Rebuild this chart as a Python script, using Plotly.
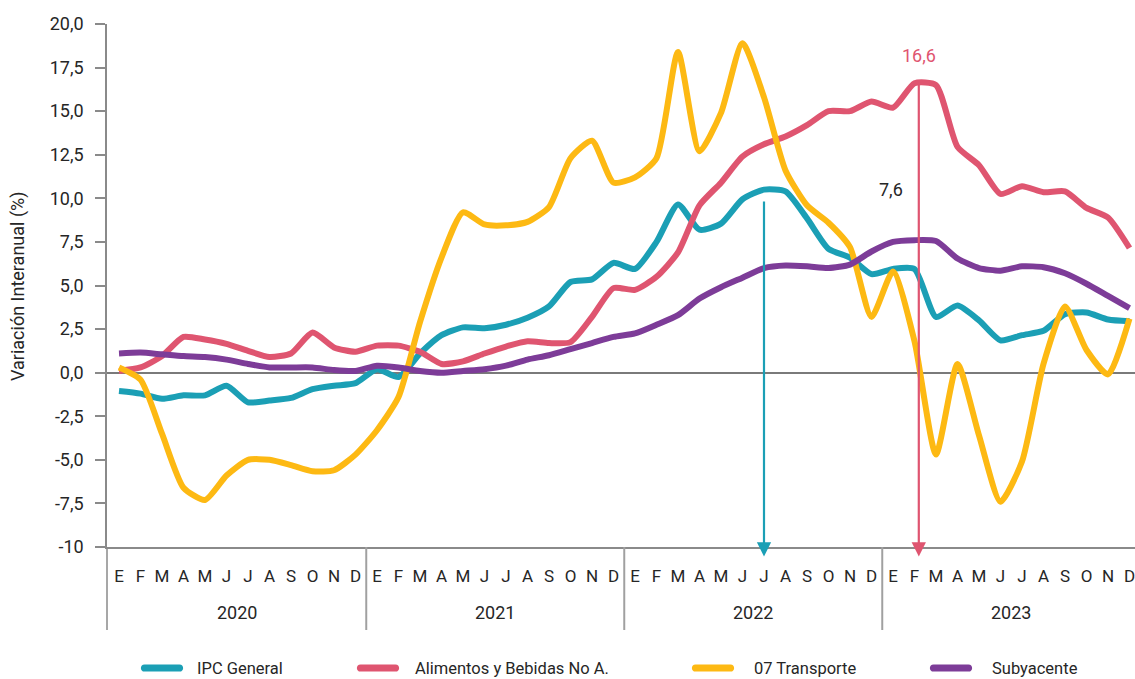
import plotly.graph_objects as go

# Month initials (Spanish) and years shown on the time axis
meses = ["E", "F", "M", "A", "M", "J", "J", "A", "S", "O", "N", "D"]
anios = ["2020", "2021", "2022", "2023"]

# Year-on-year change (%), monthly, Jan 2020 - Dec 2023
ipc_general = [-1.05, -1.2, -1.5, -1.3, -1.3, -0.75, -1.7, -1.6, -1.45, -0.95, -0.75, -0.6,
               0.2, -0.25, 1.1, 2.15, 2.6, 2.55, 2.75, 3.15, 3.8, 5.2, 5.35, 6.3,
               5.95, 7.5, 9.65, 8.2, 8.55, 9.95, 10.5, 10.4, 8.85, 7.1, 6.6, 5.65,
               5.95, 5.95, 3.2, 3.85, 3.0, 1.85, 2.15, 2.4, 3.35, 3.45, 3.05, 2.95]
alimentos = [0.1, 0.3, 0.95, 2.05, 1.9, 1.65, 1.25, 0.9, 1.1, 2.3, 1.45, 1.2,
             1.55, 1.55, 1.2, 0.5, 0.65, 1.1, 1.5, 1.8, 1.7, 1.75, 3.2, 4.85,
             4.75, 5.5, 6.9, 9.6, 10.9, 12.4, 13.1, 13.55, 14.2, 15.0, 15.0, 15.55,
             15.2, 16.6, 16.5, 12.95, 11.9, 10.25, 10.7, 10.35, 10.4, 9.45, 8.9, 7.15]
transporte = [0.3, -0.4, -3.5, -6.6, -7.3, -5.9, -5.0, -5.0, -5.3, -5.65, -5.6, -4.7,
              -3.3, -1.4, 2.9, 6.6, 9.2, 8.5, 8.45, 8.65, 9.5, 12.3, 13.3, 10.9,
              11.2, 12.3, 18.4, 12.7, 14.9, 18.9, 15.8, 11.6, 9.6, 8.6, 7.2, 3.2,
              5.8, 1.8, -4.7, 0.5, -3.6, -7.4, -5.1, 0.5, 3.8, 1.3, -0.1, 3.1]
subyacente = [1.1, 1.15, 1.05, 0.95, 0.9, 0.75, 0.5, 0.3, 0.3, 0.3, 0.15, 0.1,
              0.4, 0.3, 0.1, 0.0, 0.1, 0.2, 0.4, 0.75, 1.0, 1.35, 1.7, 2.05,
              2.25, 2.75, 3.3, 4.25, 4.9, 5.45, 6.0, 6.15, 6.1, 6.0, 6.2, 6.95,
              7.5, 7.6, 7.55, 6.55, 6.0, 5.85, 6.1, 6.05, 5.7, 5.1, 4.4, 3.7]

series = [
    ("IPC General", ipc_general, "#1b9fb5"),
    ("Alimentos y Bebidas No A.", alimentos, "#df5570"),
    ("07 Transporte", transporte, "#fdb913"),
    ("Subyacente", subyacente, "#7d3c98"),
]

y_ticks = [-10, -7.5, -5, -2.5, 0, 2.5, 5, 7.5, 10, 12.5, 15, 17.5, 20]
y_ticktext = ["-10" if v == -10 else f"{v:.1f}".replace(".", ",") for v in y_ticks]

n = len(meses) * len(anios)
x = list(range(n))
month_labels = meses * len(anios)

FONT = "Roboto"
TXT = "#262626"
AXIS = "#8a8a8a"

W, H = 1135, 679
L, R, T, B = 107, 0, 24, 132
plot_w = W - L - R
plot_h = H - T - B


def px_x(px):
    return (px - L) / plot_w


def px_y(py):
    return (H - B - py) / plot_h


fig = go.Figure()
for name, vals, color in series:
    fig.add_trace(go.Scatter(
        x=x, y=vals, name=name, mode="lines",
        line=dict(color=color, width=6, shape="spline", smoothing=0.6),
        showlegend=False, hoverinfo="skip",
    ))

shapes = []
annotations = []

# Group separators between years and extension of the left axis line
for k in range(1, len(anios)):
    xs = k * len(meses) - 0.5
    shapes.append(dict(type="line", xref="x", yref="paper", x0=xs, x1=xs,
                       y0=0, y1=px_y(630), line=dict(color="#a0a0a0", width=2)))
shapes.append(dict(type="line", xref="paper", yref="paper", x0=0, x1=0,
                   y0=0, y1=px_y(630), line=dict(color=AXIS, width=1.5)))

# Year labels centred under each group
for k, a in enumerate(anios):
    annotations.append(dict(x=k * len(meses) + (len(meses) - 1) / 2, y=px_y(612),
                            xref="x", yref="paper", text=a, showarrow=False,
                            font=dict(family=FONT, size=18, color=TXT),
                            xanchor="center", yanchor="middle"))

# Y axis title
annotations.append(dict(x=px_x(18), y=px_y(286), xref="paper", yref="paper",
                        text="Variación Interanual (%)", textangle=-90, showarrow=False,
                        font=dict(family=FONT, size=18, color=TXT),
                        xanchor="center", yanchor="middle"))

# Highlight arrows: IPC peak (Jul 2022) and food peak (Feb 2023)
i_ipc = 30
i_ali = 37
annotations.append(dict(x=i_ipc, y=-10.55, ax=i_ipc, ay=9.9, xref="x", yref="y",
                        axref="x", ayref="y", text="", showarrow=True,
                        arrowhead=2, arrowsize=1.3, arrowwidth=2.2,
                        arrowcolor="#1b9fb5"))
annotations.append(dict(x=i_ali + 0.2, y=-10.55, ax=i_ali + 0.2, ay=alimentos[i_ali],
                        xref="x", yref="y", axref="x", ayref="y", text="",
                        showarrow=True, arrowhead=2, arrowsize=1.3, arrowwidth=2.2,
                        arrowcolor="#df5570"))
annotations.append(dict(x=i_ali + 0.2, y=18.2, xref="x", yref="y",
                        text=f"{alimentos[i_ali]:.1f}".replace(".", ","),
                        showarrow=False, font=dict(family=FONT, size=18, color="#df5570"),
                        xanchor="center", yanchor="middle"))
annotations.append(dict(x=35.9, y=10.5, xref="x", yref="y",
                        text=f"{subyacente[i_ali]:.1f}".replace(".", ","),
                        showarrow=False, font=dict(family=FONT, size=18, color=TXT),
                        xanchor="center", yanchor="middle"))

# Legend row: rounded swatches plus labels
legend_pos = [(162, 195), (378, 413), (713, 752), (951, 990)]
pill = ("M-17.5,-3.6 L17.5,-3.6 C22.3,-3.6 22.3,3.6 17.5,3.6 "
        "L-17.5,3.6 C-22.3,3.6 -22.3,-3.6 -17.5,-3.6 Z")
for (name, _, color), (cx, tx) in zip(series, legend_pos):
    shapes.append(dict(type="path", xref="paper", yref="paper",
                       xsizemode="pixel", ysizemode="pixel",
                       xanchor=px_x(cx), yanchor=px_y(668), path=pill,
                       fillcolor=color, line=dict(width=0)))
    annotations.append(dict(x=px_x(tx), y=px_y(668), xref="paper", yref="paper",
                            text=name, showarrow=False,
                            font=dict(family=FONT, size=16.5, color=TXT),
                            xanchor="left", yanchor="middle"))

x0_px = 119.0
step_px = 21.5
x_lo = (L - x0_px) / step_px
x_hi = x_lo + plot_w / step_px

fig.update_layout(
    width=W, height=H,
    margin=dict(l=L, r=R, t=T, b=B, pad=0),
    paper_bgcolor="white", plot_bgcolor="white",
    font=dict(family=FONT, color=TXT),
    showlegend=False,
    shapes=shapes,
    annotations=annotations,
    xaxis=dict(
        range=[x_lo, x_hi], tickmode="array", tickvals=x, ticktext=month_labels,
        tickfont=dict(family=FONT, size=17, color=TXT),
        ticks="", ticklabelstandoff=13, ticklabeloverflow="allow",
        showgrid=False, zeroline=False,
        showline=True, linecolor=AXIS, linewidth=1.5,
        fixedrange=True,
    ),
    yaxis=dict(
        range=[-10, 20], tickmode="array", tickvals=y_ticks, ticktext=y_ticktext,
        tickfont=dict(family=FONT, size=18, color=TXT),
        ticks="outside", ticklen=10, tickwidth=1.5, tickcolor=AXIS,
        ticklabelstandoff=8,
        showgrid=False, zeroline=True, zerolinecolor="#7a7a7a", zerolinewidth=1.5,
        showline=True, linecolor=AXIS, linewidth=1.5,
        fixedrange=True,
    ),
)

fig.write_html("out.html")
